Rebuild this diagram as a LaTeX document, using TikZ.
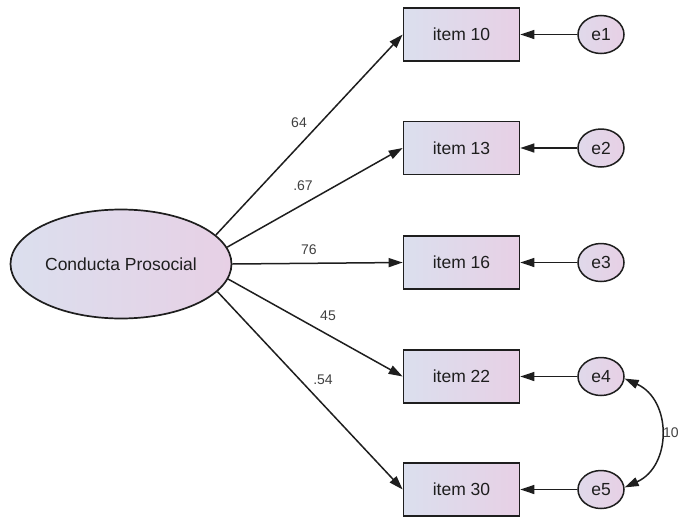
\documentclass[tikz,border=0pt]{standalone}
\usepackage{fontspec}
\setmainfont{Liberation Sans}
\usetikzlibrary{arrows.meta,shapes.geometric}
\definecolor{fillL}{HTML}{DBDFEE}
\definecolor{fillR}{HTML}{E7D0E5}
\definecolor{ink}{HTML}{1E1E1E}
\begin{document}
\begin{tikzpicture}[x=1pt,y=-1pt,
  obs/.style={draw=ink, line width=1.7pt, rectangle, minimum width=116pt, minimum height=53pt,
    left color=fillL, right color=fillR, font=\fontsize{17.5}{20}\selectfont, text=ink, inner sep=0pt},
  err/.style={draw=ink, line width=1.5pt, ellipse, minimum width=46pt, minimum height=38pt,
    left color=fillL!60!fillR, right color=fillR, font=\fontsize{17.5}{20}\selectfont, text=ink, inner sep=0pt},
  lat/.style={draw=ink, line width=1.7pt, ellipse, minimum width=221pt, minimum height=109pt,
    left color=fillL, right color=fillR, font=\fontsize{17.5}{20}\selectfont, text=ink, inner sep=0pt},
  pth/.style={draw=ink, line width=1.5pt, -{Triangle[length=14pt,width=9pt]}},
  cov/.style={draw=ink, line width=1.5pt, {Triangle[length=14pt,width=9pt]}-{Triangle[length=14pt,width=9pt]}},
  lbl/.style={font=\fontsize{14}{16}\selectfont, text=ink!85, inner sep=0pt}
]
\useasboundingbox (0,0) rectangle (681,517);
\node[lat] (lat) at (121,264) {Conducta Prosocial};
\node[obs] (i10) at (461.5,34.5) {item 10};
\node[obs] (i13) at (461.5,148) {item 13};
\node[obs] (i16) at (461.5,262.5) {item 16};
\node[obs] (i22) at (461.5,376.5) {item 22};
\node[obs] (i30) at (461.5,489.5) {item 30};
\node[err] (e1) at (601,34.5) {e1};
\node[err] (e2) at (601,148) {e2};
\node[err] (e3) at (601,262.5) {e3};
\node[err] (e4) at (601,376.5) {e4};
\node[err] (e5) at (601,489.5) {e5};
\draw[pth] (lat.17) -- (i10.west);
\draw[pth] (lat.9) -- (i13.west);
\draw[pth] (lat.east) -- (i16.west);
\draw[pth] (lat.-8) -- (i22.west);
\draw[pth] (lat.-16) -- (i30.west);
\draw[pth] (e1) -- (i10);
\draw[pth] (e2) -- (i13);
\draw[pth] (e3) -- (i16);
\draw[pth] (e4) -- (i22);
\draw[pth] (e5) -- (i30);
\draw[cov] (e4.-5) .. controls (672,400) and (672,466) .. (e5.5);
\node[lbl] (l1) at (299,123) {64};
\node[lbl] (l2) at (303,186) {.67};
\node[lbl] (l3) at (309,250) {76};
\node[lbl] (l4) at (328,316) {45};
\node[lbl] (l5) at (323,380) {.54};
\node[lbl, anchor=west] (l6) at (663,433) {10};
\end{tikzpicture}
\end{document}
